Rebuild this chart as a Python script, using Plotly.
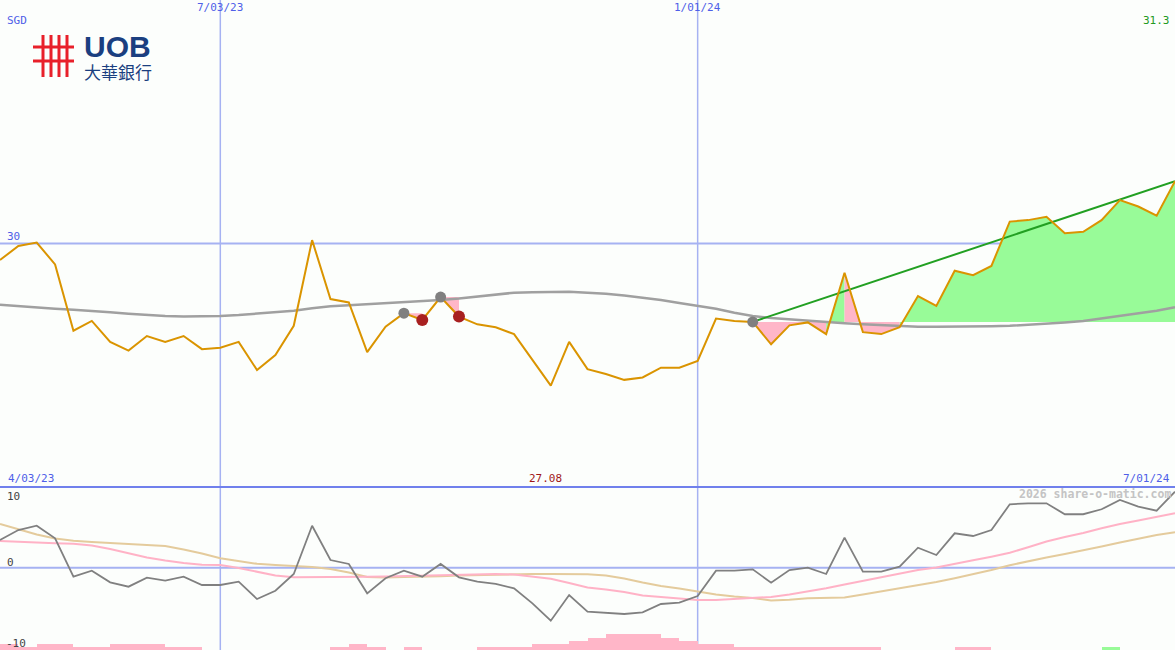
import plotly.graph_objects as go
import pandas as pd

# ---------------- data ----------------
dates = pd.date_range("2023-04-10", "2024-07-01", freq="7D")

price = [29.66, 29.95, 30.02, 29.57, 28.21, 28.41, 27.98, 27.80, 28.10, 27.98,
         28.10, 27.83, 27.86, 27.98, 27.40, 27.71, 28.31, 30.07, 28.86, 28.79,
         27.77, 28.29, 28.57, 28.43, 28.90, 28.50, 28.34, 28.28, 28.14, 27.61,
         27.08, 27.98, 27.42, 27.32, 27.20, 27.25, 27.45, 27.45, 27.59, 28.46,
         28.41, 28.39, 27.93, 28.32, 28.38, 28.14, 29.40, 28.18, 28.14, 28.28,
         28.92, 28.72, 29.44, 29.35, 29.54, 30.45, 30.48, 30.55, 30.21, 30.24,
         30.48, 30.89, 30.76, 30.57, 31.28]

ma30 = [28.74, 28.71, 28.69, 28.66, 28.64, 28.62, 28.59, 28.56, 28.53, 28.51,
        28.50, 28.50, 28.51, 28.53, 28.56, 28.59, 28.62, 28.67, 28.71, 28.73,
        28.75, 28.77, 28.79, 28.82, 28.84, 28.87, 28.91, 28.95, 28.99, 29.00,
        29.01, 29.01, 28.99, 28.97, 28.93, 28.89, 28.84, 28.78, 28.72, 28.66,
        28.58, 28.51, 28.47, 28.44, 28.41, 28.38, 28.36, 28.34, 28.32, 28.30,
        28.29, 28.29, 28.29, 28.30, 28.30, 28.31, 28.33, 28.35, 28.38, 28.41,
        28.46, 28.51, 28.56, 28.62, 28.69]

osc = [3.79, 5.16, 5.75, 4.03, -1.23, -0.41, -2.00, -2.60, -1.37, -1.78,
       -1.23, -2.37, -2.37, -1.92, -4.29, -3.15, -0.86, 5.75, 1.05, 0.51,
       -3.51, -1.45, -0.41, -1.23, 0.51, -1.32, -1.92, -2.23, -2.82, -4.88,
       -7.26, -3.74, -6.03, -6.16, -6.34, -6.11, -4.97, -4.79, -3.88, -0.41,
       -0.41, -0.22, -2.05, -0.32, 0.00, -0.86, 4.11, -0.55, -0.55, 0.14,
       2.74, 1.74, 4.71, 4.34, 5.16, 8.68, 8.82, 8.82, 7.32, 7.32,
       8.00, 9.27, 8.36, 7.81, 10.41]

osc_fast = [3.66, 3.52, 3.44, 3.34, 3.27, 3.04, 2.56, 1.95, 1.40, 0.99,
            0.64, 0.41, 0.37, -0.04, -0.52, -1.07, -1.32, -1.32, -1.27, -1.23,
            -1.23, -1.21, -1.14, -1.14, -1.07, -1.00, -0.90, -0.86, -0.93, -1.21,
            -1.52, -2.10, -2.71, -2.99, -3.33, -3.81, -4.01, -4.19, -4.42, -4.42,
            -4.29, -4.15, -4.01, -3.67, -3.29, -2.82, -2.30, -1.78, -1.32, -0.77,
            -0.32, 0.03, 0.47, 1.01, 1.51, 2.05, 2.79, 3.59, 4.21, 4.75,
            5.40, 5.99, 6.47, 6.95, 7.45]

osc_slow = [5.99, 5.30, 4.55, 4.00, 3.68, 3.52, 3.38, 3.27, 3.18, 2.97,
            2.49, 1.95, 1.29, 0.88, 0.53, 0.37, 0.23, 0.10, -0.18, -0.66,
            -1.27, -1.34, -1.27, -1.25, -1.16, -1.07, -1.00, -0.93, -0.86, -0.86,
            -0.86, -0.86, -0.89, -1.07, -1.48, -2.03, -2.51, -2.85, -3.26, -3.67,
            -3.95, -4.15, -4.49, -4.40, -4.19, -4.15, -4.08, -3.67, -3.23, -2.85,
            -2.44, -1.96, -1.45, -0.93, -0.32, 0.34, 0.92, 1.40, 1.88, 2.36,
            2.90, 3.45, 4.00, 4.48, 4.85]

# signed histogram levels (negative = pink, positive = green)
hist = [-2, -1, -2, -2, -1, -1, -2, -2, -2, -1,
        -1, 0, 0, 0, 0, 0, 0, 0, -1, -2,
        -1, 0, -1, 0, 0, 0, -1, -1, -1, -2,
        -2, -3, -4, -5, -5, -5, -4, -3, -2, -2,
        -1, -1, -1, -1, -1, -1, -1, -1, 0, 0,
        0, 0, -1, -1, 0, 0, 0, 0, 0, 0,
        1, 0, 0, 0, 0]

entry_idx = [22, 24, 41]        # grey signal dots
exit_idx = [23, 25]             # red stop dots
windows = [(22, 23), (24, 25), (41, 64)]
trend = (41, 64)

grid_dates = ["2023-07-03", "2024-01-01"]
grid_labels = ["7/03/23", "1/01/24"]
start_label, end_label = "4/03/23", "7/01/24"

# ---------------- styling ----------------
W, H = 1175, 650
SPLIT = 487
BG = "#fcfefc"
BLUE_TXT = "#4f5fe8"
GRID = "#a6b2f2"
FONT = "DejaVu Sans Mono"


def px(x, y):
    return x / W, 1 - y / H


fig = go.Figure()


def fill_trace(want_up, color):
    xs, ys = [], []
    for s, e in windows:
        ref = price[s]
        for i in range(s + 1, e + 1):
            if (price[i] > ref) == want_up:
                xs += [dates[i - 1], dates[i - 1], dates[i], dates[i], None]
                ys += [ref, price[i - 1], price[i], ref, None]
    return go.Scatter(x=xs, y=ys, mode="lines", fill="toself", fillcolor=color,
                      line=dict(width=0), hoverinfo="skip", xaxis="x", yaxis="y")


fig.add_trace(fill_trace(True, "#98fb98"))
fig.add_trace(fill_trace(False, "#ffb6c8"))

fig.add_trace(go.Scatter(x=dates, y=ma30, mode="lines",
                         line=dict(color="#a0a0a0", width=2.5), xaxis="x", yaxis="y"))
fig.add_trace(go.Scatter(x=[dates[trend[0]], dates[trend[1]]],
                         y=[price[trend[0]], price[trend[1]]], mode="lines",
                         line=dict(color="#22a022", width=2), xaxis="x", yaxis="y"))
fig.add_trace(go.Scatter(x=dates, y=price, mode="lines",
                         line=dict(color="#da9400", width=2), xaxis="x", yaxis="y"))
fig.add_trace(go.Scatter(x=[dates[i] for i in entry_idx], y=[price[i] for i in entry_idx],
                         mode="markers", marker=dict(color="#808080", size=11),
                         xaxis="x", yaxis="y"))
fig.add_trace(go.Scatter(x=[dates[i] for i in exit_idx], y=[price[i] for i in exit_idx],
                         mode="markers", marker=dict(color="#a82020", size=12),
                         xaxis="x", yaxis="y"))

# lower panel
fig.add_trace(go.Bar(x=dates, y=[abs(v) for v in hist], width=7 * 86400000, offset=0,
                     marker=dict(color=["#98fb98" if v > 0 else "#ffb6c8" for v in hist],
                                 line=dict(width=0)),
                     xaxis="x2", yaxis="y3"))
fig.add_trace(go.Scatter(x=dates, y=osc_slow, mode="lines",
                         line=dict(color="#e4cb9c", width=2), xaxis="x2", yaxis="y2"))
fig.add_trace(go.Scatter(x=dates, y=osc_fast, mode="lines",
                         line=dict(color="#ffb2c6", width=2), xaxis="x2", yaxis="y2"))
fig.add_trace(go.Scatter(x=dates, y=osc, mode="lines",
                         line=dict(color="#808080", width=1.8), xaxis="x2", yaxis="y2"))

split_p = 1 - SPLIT / H
hidden = dict(visible=False, showgrid=False, zeroline=False, fixedrange=True)

shapes = []
# price 30 gridline and lower zero line
shapes.append(dict(type="line", xref="paper", yref="y", x0=0, x1=1, y0=30, y1=30,
                   line=dict(color=GRID, width=2), layer="below"))
shapes.append(dict(type="line", xref="paper", yref="y2", x0=0, x1=1, y0=0, y1=0,
                   line=dict(color=GRID, width=2), layer="below"))
for d in grid_dates:
    shapes.append(dict(type="line", xref="x", yref="paper", x0=d, x1=d, y0=0, y1=1,
                       line=dict(color=GRID, width=1.5), layer="below"))
shapes.append(dict(type="line", xref="paper", yref="paper", x0=0, x1=1,
                   y0=split_p, y1=split_p, line=dict(color="#7080ec", width=2)))

# UOB logo mark
LOGO_RED = "#e8202a"
for bx in [43, 51, 59, 67]:
    x0, y0 = px(bx, 35)
    _, y1 = px(bx, 77)
    shapes.append(dict(type="line", xref="paper", yref="paper", x0=x0, x1=x0,
                       y0=y0, y1=y1, line=dict(color=LOGO_RED, width=3)))
for by in [47, 61]:
    x0, yy = px(33, by)
    x1, _ = px(74, by)
    shapes.append(dict(type="line", xref="paper", yref="paper", x0=x0, x1=x1,
                       y0=yy, y1=yy, line=dict(color=LOGO_RED, width=3)))

ann = []


def label(text, x, y, color, size=11, xanchor="left", **kw):
    ax, ay = px(x, y)
    ann.append(dict(text=text, x=ax, y=ay, xref="paper", yref="paper", showarrow=False,
                    xanchor=xanchor, yanchor="middle",
                    font=dict(family=kw.pop("family", FONT), size=size, color=color), **kw))


label("SGD", 5, 21, BLUE_TXT)
label("30", 5, 237, BLUE_TXT)
for d, t in zip(grid_dates, grid_labels):
    ann.append(dict(text=t, x=d, y=1, xref="x", yref="paper", showarrow=False,
                    xanchor="center", yanchor="top", yshift=1,
                    font=dict(family=FONT, size=11, color=BLUE_TXT)))
label(f"{price[-1]:.1f}", 1172, 20, "#229922", xanchor="right")
label(start_label, 6, 478, BLUE_TXT)
label(f"{min(price):.2f}", 545, 478, "#a01818", xanchor="center")
label(end_label, 1172, 478, BLUE_TXT, xanchor="right")
label("10", 5, 496, "#444444")
label("0", 5, 562, "#444444")
label("-10", 4, 643, "#444444")
label("2026 share-o-matic.com", 1173, 494, "#c4c4c4", size=11.5, xanchor="right")
ann[-1]["font"]["weight"] = "bold"

# logo text
LOGO_BLUE = "#1b3f80"
label("UOB", 117, 46, LOGO_BLUE, size=30, xanchor="center", family="Liberation Sans")
ann[-1]["font"]["weight"] = "bold"
label("大華銀行", 82, 71, LOGO_BLUE, size=17, family="Noto Sans CJK TC")

fig.update_layout(
    width=W, height=H, autosize=False,
    margin=dict(l=0, r=0, t=0, b=0, pad=0),
    paper_bgcolor=BG, plot_bgcolor=BG,
    showlegend=False, bargap=0,
    xaxis=dict(domain=[0, 1], range=[dates[0], dates[-1]], anchor="y", **hidden),
    xaxis2=dict(domain=[0, 1], range=[dates[0], dates[-1]], anchor="y2", matches="x", **hidden),
    yaxis=dict(domain=[split_p, 1], range=[25, 35], anchor="x", **hidden),
    yaxis2=dict(domain=[0, split_p], range=[-11.27, 11.05], anchor="x2", **hidden),
    yaxis3=dict(domain=[0, split_p], range=[0, 52.5], overlaying="y2", anchor="x2", **hidden),
    shapes=shapes,
    annotations=ann,
)

fig.write_html("out.html", config=dict(displayModeBar=False),
               post_script="document.body.style.margin='0';document.body.style.overflow='hidden';")
